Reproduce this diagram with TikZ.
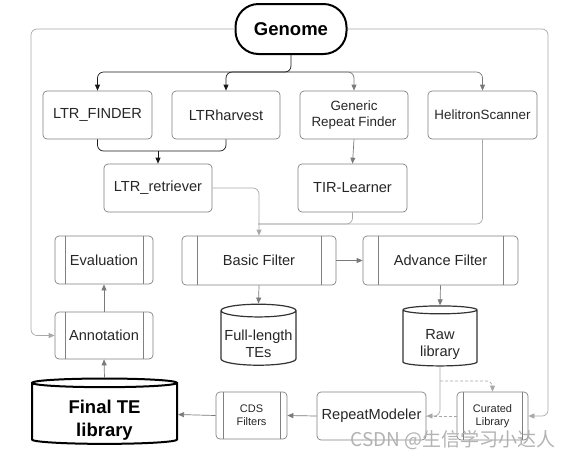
\documentclass[tikz,border=0pt]{standalone}
\usepackage{fontspec}
\setmainfont{Liberation Sans}
\newfontfamily\cjk{Noto Sans CJK SC}
\usetikzlibrary{arrows.meta,shapes.geometric}

\definecolor{linegray}{HTML}{7A7A7A}
\definecolor{boxgray}{HTML}{808080}
\definecolor{framegray}{HTML}{A8A8A8}
% text set lower in a cylinder, box kept the same size
\newcommand\lowtext[2]{\raisebox{-#1}[\height][\depth]{\begin{tabular}{@{}c@{}}#2\end{tabular}}}

\begin{document}
\begin{tikzpicture}[x=1pt,y=-1pt,
    >={Triangle[length=6pt,width=5pt]},
    box/.style={draw=boxgray,rounded corners=4pt,line width=0.7pt,text=black!85,
        font=\fontsize{14.6}{17}\selectfont,align=center,
        minimum width=109pt,minimum height=48pt},
    proc/.style={box,path picture={
        \draw[boxgray,line width=0.7pt]
            ([xshift=#1]path picture bounding box.north west) -- ([xshift=#1]path picture bounding box.south west)
            ([xshift=-#1]path picture bounding box.north east) -- ([xshift=-#1]path picture bounding box.south east);}},
    store/.style={cylinder,shape border rotate=90,draw=black!80,line width=1.2pt,aspect=0.17,
        font=\fontsize{14.6}{17}\selectfont,text=black!85},
    flow/.style={draw=linegray,line width=0.7pt,rounded corners=6pt,->},
    dark/.style={draw=black!90,line width=0.7pt,rounded corners=6pt,->},
    faint/.style={flow,draw=framegray}]
    \useasboundingbox (0,0) rectangle (575,459);

    % top
    \node[draw=black,line width=2pt,rounded corners=23pt,minimum width=111pt,minimum height=50pt,
        font=\fontsize{18.5}{20}\selectfont\bfseries] (genome) at (291,29) {Genome};

    % finders
    \node[box] (finder) at (97.5,115) {LTR\_FINDER};
    \node[box,minimum width=108pt] (harvest) at (226,115) {LTRharvest};
    \node[box,minimum width=108pt,font=\fontsize{13.4}{16.5}\selectfont] (generic) at (354,115) {Generic\\Repeat Finder};
    \node[box,font=\fontsize{13.4}{16.5}\selectfont] (helitron) at (482.5,115) {HelitronScanner};
    \node[box,minimum width=108pt] (retriever) at (158,188) {LTR\_retriever};
    \node[box] (tir) at (352.5,188) {TIR-Learner};

    % filters
    \node[proc=10pt,minimum width=98pt] (eval) at (104,260) {Evaluation};
    \node[proc=15pt,minimum width=154pt,minimum height=49pt] (basic) at (259,260.5) {Basic Filter};
    \node[proc=15pt,minimum width=155pt,minimum height=49pt] (advance) at (440.5,260.5) {Advance Filter};
    \node[proc=10pt,minimum width=98pt,minimum height=47pt] (annot) at (104,335.5) {Annotation};
    \node[store,minimum width=75pt,minimum height=61pt] (full) at (258.5,339.5) {\lowtext{6pt}{Full-length\\TEs}};
    \node[store,minimum width=74pt,minimum height=60pt] (raw) at (440,339) {\lowtext{6pt}{Raw\\library}};

    % bottom row
    \node[store,line width=2pt,draw=black,aspect=0.11,minimum width=145pt,minimum height=63pt,
        text=black,font=\fontsize{18.5}{23}\selectfont\bfseries] (final) at (104.5,414.5) {\lowtext{6pt}{Final TE\\library}};
    \node[proc=7pt,minimum width=71pt,minimum height=47pt,font=\fontsize{11}{13}\selectfont] (cds) at (251.5,415.5) {CDS\\Filters};
    \node[box] (modeler) at (371.5,416) {RepeatModeler};
    \node[proc=6pt,minimum width=71pt,font=\fontsize{11}{13}\selectfont] (curated) at (492.5,416) {Curated\\Library};

    % genome to finders
    \coordinate (split) at (291,72);
    \draw[dark] (genome.south) -- (split) -| (finder.north);
    \draw[dark] (split) -| (harvest.north);
    \draw[flow] (split) -| (generic.north);
    \draw[flow] (split) -| (helitron.north);

    % finders to filters
    \coordinate (merge) at (158,151);
    \draw[dark,-] (finder.south) |- (merge) -| (harvest.south);
    \draw[dark] (merge) -- (retriever.north);
    \draw[flow] (generic.south) -- (tir.north);
    \coordinate (join) at (258,224);
    \draw[faint] (retriever.east) -| (basic.north);
    \draw[faint,-] (tir.south) |- (join);
    \draw[faint,-] (helitron.south) |- (join);
    \draw[flow] (basic.east) -- (advance.west);
    \draw[flow] (basic.south) -- (full.top);
    \draw[flow] (advance.south) -- (raw.top);

    % library building
    \coordinate (drop) at (440,381);
    \draw[faint] (raw.bottom) |- (modeler.east);
    \draw[faint,dash pattern=on 3pt off 2pt] (drop) -| (curated.north);
    \draw[faint,dash pattern=on 3pt off 2pt,-] (curated.west) -- (modeler.east);
    \draw[flow] (modeler.west) -- (cds.east);
    \draw[flow] (cds.west) -- (final.east);
    \draw[flow] (final.top) -- (annot.south);
    \draw[flow] (annot.north) -- (eval.south);

    % frame round the picture
    \draw[faint] (genome.west) -| (31,60) |- (annot.west);
    \draw[faint] (genome.east) -| (548,60) |- (curated.east);

    \node[text=black!30,font=\cjk\fontsize{19}{21}\selectfont] (mark) at (453,440) {CSDN @生信学习小达人};
\end{tikzpicture}
\end{document}
